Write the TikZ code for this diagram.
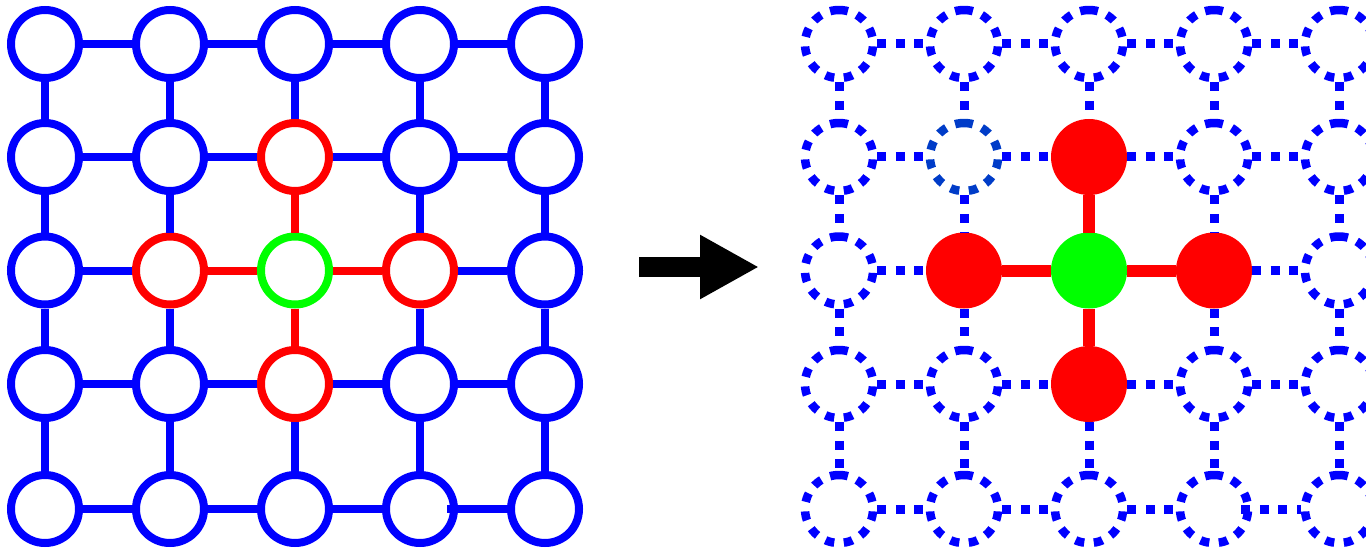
\documentclass[tikz,border=0pt]{standalone}
\usetikzlibrary{arrows.meta}
\definecolor{gblue}{RGB}{0,0,255}
\definecolor{gdeep}{RGB}{0,60,200}
\definecolor{gred}{RGB}{255,0,0}
\definecolor{ggreen}{RGB}{0,255,0}
\tikzset{
  ring/.style={circle, inner sep=0pt, minimum size=51pt, line width=6pt, draw=#1, fill=white},
  dotring/.style={circle, inner sep=0pt, minimum size=51pt, line width=6.375pt, draw=#1,
    rotate=90, dash pattern=on 6.75pt off 7.2pt},
  disk/.style={circle, inner sep=0pt, minimum size=51pt, line width=6pt, draw=#1, fill=#1},
  solidedge/.style={line width=6pt, draw=#1},
  dotedge/.style={line width=6.75pt, draw=gblue, dash pattern=on 6.75pt off 7.2pt},
  hotedge/.style={line width=9pt, draw=gred},
  stub/.style={shorten <=-8.25pt},
}
\begin{document}
\begin{tikzpicture}[x=0.75pt,y=-0.75pt]
\useasboundingbox (0,0) rectangle (1366,549);

% ---------- left: plain grid with highlighted neighbourhood ----------
\foreach \c/\x in {1/45,2/170,3/295,4/420,5/545}{
  \foreach \r/\y in {1/44,2/157,3/270.5,4/384,5/509}{
    \pgfmathtruncatemacro\d{abs(\c-3)+abs(\r-3)}
    \ifcase\d \def\col{ggreen}\or \def\col{gred}\else \def\col{gblue}\fi
    \node[ring=\col] (L\c\r) at (\x,\y) {};
  }
}
% ---------- right: dotted grid with filled neighbourhood ----------
\foreach \c/\x in {1/839,2/964,3/1089,4/1214,5/1339}{
  \foreach \r/\y in {1/44,2/157,3/270.5,4/384,5/509}{
    \pgfmathtruncatemacro\d{abs(\c-3)+abs(\r-3)}
    \ifcase\d
      \node[disk=ggreen] (R\c\r) at (\x,\y) {};
    \or
      \node[disk=gred] (R\c\r) at (\x,\y) {};
    \else
      \ifnum\c\r=22
        \node[dotring=gdeep] (R\c\r) at (\x,\y) {};
      \else
        \node[dotring=gblue] (R\c\r) at (\x,\y) {};
      \fi
    \fi
  }
}

% ---------- grid edges ----------
\foreach \a in {1,...,4}{
  \foreach \b in {1,...,5}{
    \pgfmathtruncatemacro\n{\a+1}
    % horizontal edge (\a,\b)-(\n,\b)
    \pgfmathtruncatemacro\h{abs(\a-3)+abs(\b-3)+abs(\n-3)+abs(\b-3)}
    % vertical edge (\b,\a)-(\b,\n)
    \pgfmathtruncatemacro\v{abs(\b-3)+abs(\a-3)+abs(\b-3)+abs(\n-3)}
    \ifnum\h=1
      \draw[solidedge=gred] (L\a\b) -- (L\n\b);
      \draw[hotedge] (R\a\b) -- (R\n\b);
    \else
      \ifnum\a\b=45
        \draw[solidedge=gblue, stub] (L\a\b) -- (L\n\b);
        \draw[dotedge, stub] (R\a\b) -- (R\n\b);
      \else
        \draw[solidedge=gblue] (L\a\b) -- (L\n\b);
        \draw[dotedge] (R\a\b) -- (R\n\b);
      \fi
    \fi
    \ifnum\v=1
      \draw[solidedge=gred] (L\b\a) -- (L\b\n);
      \draw[hotedge] (R\b\a) -- (R\b\n);
    \else
      \draw[solidedge=gblue] (L\b\a) -- (L\b\n);
      \draw[dotedge] (R\b\a) -- (R\b\n);
    \fi
  }
}

% ---------- transition arrow ----------
\coordinate (arrtail) at (639,267);
\coordinate (arrtip) at (759,267);
\draw[line width=15pt, -{Triangle[length=44.25pt, width=45pt]}] (arrtail) -- (arrtip);
\end{tikzpicture}
\end{document}
